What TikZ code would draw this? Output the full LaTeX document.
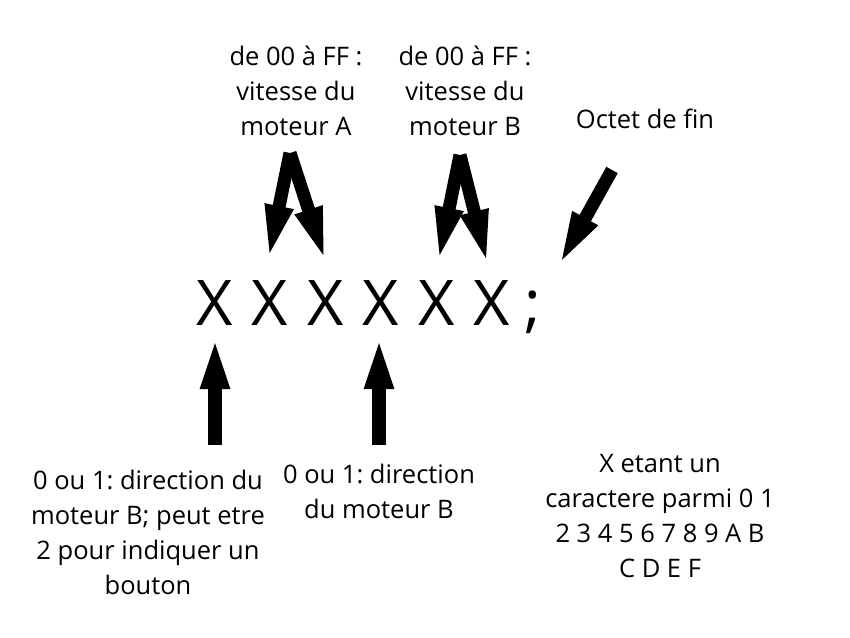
\documentclass[tikz,border=0pt]{standalone}
\usepackage{fontspec}
\setmainfont{Open Sans}
\usetikzlibrary{arrows.meta}
\frenchspacing
\tikzset{
  lbl/.style={align=center, font=\fontsize{25.5}{35}\selectfont, inner sep=0pt},
  big/.style={font=\fontsize{63}{70}\selectfont, inner sep=0pt, anchor=base},
  blk/.style={line width=13pt, -{Triangle[width=25pt,length=56pt]}, shorten <=0pt},
}
\begin{document}
\begin{tikzpicture}[x=1pt,y=-1pt]
\useasboundingbox (0,0) rectangle (850,637);
% characters
\node[big] (x1) at (215,325) {X};
\node[big] (x2) at (270,325) {X};
\node[big] (x3) at (326,325) {X};
\node[big] (x4) at (381,325) {X};
\node[big] (x5) at (437,325) {X};
\node[big] (x6) at (492,325) {X};
\node[big] (sc) at (533,325) {;};
% labels
\node[lbl] (la) at (296,91) {de 00 à FF :\\vitesse du\\moteur A};
\node[lbl] (lb) at (465,91) {de 00 à FF :\\vitesse du\\moteur B};
\node[lbl] (lf) at (645,119) {Octet de fin};
\node[lbl] (l1) at (148,532) {0 ou 1: direction du\\moteur B; peut etre\\2 pour indiquer un\\bouton};
\node[lbl] (l4) at (379,491) {0 ou 1: direction\\du moteur B};
\node[lbl] (lx) at (660,516) {X etant un\\caractere parmi 0 1\\2 3 4 5 6 7 8 9 A B\\C D E F};
% arrow points
\coordinate (ta) at (290,153);
\coordinate (ta1) at (268,261);
\coordinate (ta2) at (326,263);
\coordinate (tb) at (460,155);
\coordinate (tb1) at (438,263);
\coordinate (tb2) at (488,266);
\coordinate (tf) at (612,170);
\coordinate (tf1) at (558,267);
\coordinate (b1) at (215,445);
\coordinate (b1t) at (215,333);
\coordinate (b4) at (379,445);
\coordinate (b4t) at (379,333);
% arrows
\draw[blk] (ta) -- (ta1);
\draw[blk] (ta) -- (ta2);
\draw[blk] (tb) -- (tb1);
\draw[blk] (tb) -- (tb2);
\draw[blk] (tf) -- (tf1);
\draw[blk, line width=14pt] (b1) -- (b1t);
\draw[blk, line width=14pt] (b4) -- (b4t);
\end{tikzpicture}
\end{document}
